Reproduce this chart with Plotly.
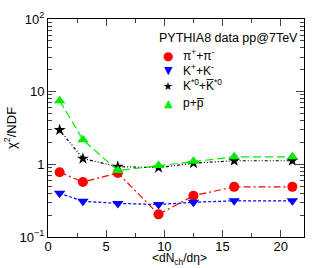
import plotly.graph_objects as go

x_vals = [1.0, 3.0, 6.0, 9.5, 12.5, 16.0, 21.0]
pion = [0.78, 0.57, 0.76, 0.205, 0.37, 0.49, 0.49]
kaon = [0.40, 0.31, 0.29, 0.28, 0.30, 0.315, 0.315]
kstar = [2.97, 1.2, 0.93, 0.90, 1.04, 1.12, 1.12]
proton = [7.5, 2.18, 0.82, 0.96, 1.1, 1.27, 1.27]

legend_title = "PYTHIA8 data pp@7TeV"
x_title = "&lt;dN<sub>ch</sub>/dη&gt;"
y_title = "χ<sup>2</sup>/NDF"
names = ["π<sup>+</sup>+π<sup>-</sup>", "K<sup>+</sup>+K<sup>-</sup>",
         "K<sup>*0</sup>+K\u0305<sup>*0</sup>", "p+p\u0305"]
series = [pion, kaon, kstar, proton]
colors = ["#ff0000", "#0000ff", "#000000", "#00ee00"]
symbols = ["circle", "triangle-down", "star", "triangle-up"]
glyphs = ["●", "▼", "★", "▲"]
msizes = [10, 10, 9, 10]
dashes = ["7px,3px,2px,3px", "3px,2px", "3px,2px,1px,2px,1px,2px", "8px,4px"]

y_major = [0.1, 1, 10, 100]
y_major_text = ["10<sup>−1</sup>", "1", "10", "10<sup>2</sup>"]
y_minor = [m * 10 ** e for e in (-1, 0, 1) for m in range(2, 10)]

W, H = 315, 268
ML, MR, MT, MB = 32, 10, 13, 31
PW, PH = W - ML - MR, H - MT - MB


def px_x(p):
    return (p - ML) / PW


def px_y(p):
    return 1 - (p - MT) / PH


fig = go.Figure()
for n, vals, c, s, ms, d in zip(names, series, colors, symbols, msizes, dashes):
    fig.add_trace(go.Scatter(x=x_vals, y=vals, mode="lines+markers", name=n,
                             line=dict(color=c, width=1.2, dash=d),
                             marker=dict(color=c, symbol=s, size=ms),
                             showlegend=False))

# legend (ROOT-style, marker only)
fig.add_annotation(text=legend_title, xref="paper", yref="paper",
                   x=px_x(148), y=px_y(33), xanchor="left", yanchor="middle",
                   showarrow=False, font=dict(size=12.5))
row_y = [51, 66, 82, 100]
glyph_sizes = [12, 11, 11, 11]
for n, c, g, gs, ry in zip(names, colors, glyphs, glyph_sizes, row_y):
    fig.add_annotation(text=g, xref="paper", yref="paper",
                       x=px_x(160), y=px_y(ry), xanchor="center",
                       yanchor="middle", showarrow=False,
                       font=dict(size=gs, color=c,
                                 family="DejaVu Sans"))
    fig.add_annotation(text=n, xref="paper", yref="paper",
                       x=px_x(174), y=px_y(ry - 1), xanchor="left",
                       yanchor="middle", showarrow=False,
                       font=dict(size=12))

fig.add_annotation(text=x_title, xref="paper", yref="paper",
                   x=px_x(172), y=px_y(260), xanchor="center",
                   yanchor="middle", showarrow=False, borderpad=0,
                   font=dict(size=12))

fig.update_layout(
    width=W, height=H,
    margin=dict(l=ML, r=MR, t=MT, b=MB),
    paper_bgcolor="white", plot_bgcolor="white",
    font=dict(family="Liberation Sans, Arial", size=12, color="black"),
    showlegend=False,
    xaxis=dict(range=[0, 22], tickvals=[0, 5, 10, 15, 20], ticks="inside",
               ticklen=7, showline=True, linecolor="black", mirror="ticks",
               showgrid=False, zeroline=False, tickfont=dict(size=13),
               ticklabelstandoff=-3,
               minor=dict(dtick=2.5, tick0=0, ticks="inside", ticklen=4,
                          showgrid=False)),
    yaxis=dict(type="log", range=[-1, 2], tickvals=y_major,
               ticktext=y_major_text, ticks="inside", ticklen=8,
               showline=True, linecolor="black", mirror="ticks",
               showgrid=False, zeroline=False, tickfont=dict(size=13),
               minor=dict(tickmode="array", tickvals=y_minor, ticks="inside",
                          ticklen=4, showgrid=False),
               title=dict(text=y_title, standoff=0, font=dict(size=13))),
)
fig.write_html("out.html",
               config={"displayModeBar": False},
               post_script="document.body.style.margin='0';")
